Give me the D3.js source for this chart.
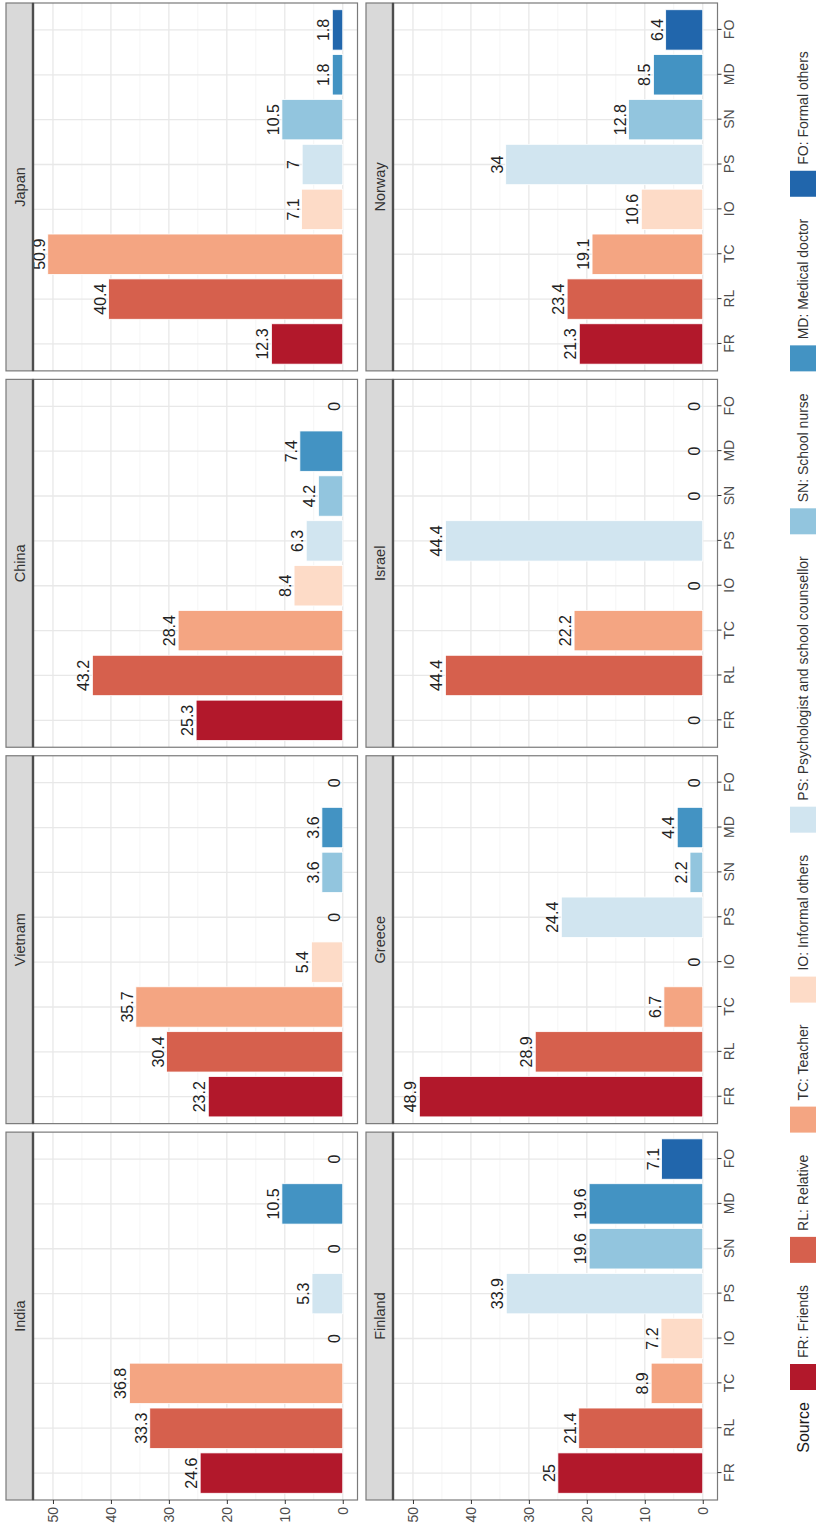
<!DOCTYPE html>
<html>
<head>
<meta charset="utf-8">
<script src="https://cdn.jsdelivr.net/npm/d3@7/dist/d3.min.js"></script>
<style>
  body { margin: 0; background: #fff; }
  svg { display: block; }
  text { font-family: "Liberation Sans", Arial, Helvetica, sans-serif; }
</style>
</head>
<body>
<script>
// Help-seeking sources, percentage of respondents per country
const sources = ["FR", "RL", "TC", "IO", "PS", "SN", "MD", "FO"];
const sourceNames = [
  "FR: Friends", "RL: Relative", "TC: Teacher", "IO: Informal others",
  "PS: Psychologist and school counsellor", "SN: School nurse",
  "MD: Medical doctor", "FO: Formal others"
];
const sourceColors = ["#b2182b", "#d6604d", "#f4a582", "#fddbc7",
                      "#d1e5f0", "#92c5de", "#4393c3", "#2166ac"];

const countries = ["India", "Vietnam", "China", "Japan",
                   "Finland", "Greece", "Israel", "Norway"];

const india   = [24.6, 33.3, 36.8, 0, 5.3, 0, 10.5, 0];
const vietnam = [23.2, 30.4, 35.7, 5.4, 0, 3.6, 3.6, 0];
const china   = [25.3, 43.2, 28.4, 8.4, 6.3, 4.2, 7.4, 0];
const japan   = [12.3, 40.4, 50.9, 7.1, 7, 10.5, 1.8, 1.8];
const finland = [25, 21.4, 8.9, 7.2, 33.9, 19.6, 19.6, 7.1];
const greece  = [48.9, 28.9, 6.7, 0, 24.4, 2.2, 4.4, 0];
const israel  = [0, 44.4, 22.2, 0, 44.4, 0, 0, 0];
const norway  = [21.3, 23.4, 19.1, 10.6, 34, 12.8, 8.5, 6.4];

const countryValues = [india, vietnam, china, japan, finland, greece, israel, norway];

const valueTicks = [0, 10, 20, 30, 40, 50];
const valueMinorTicks = [5, 15, 25, 35, 45];
const legendTitle = "Source";

// ---- page frame: the figure is laid out landscape and turned a quarter turn
const pageW = 816, pageH = 1528;

const svg = d3.select("body").append("svg")
  .attr("width", pageW).attr("height", pageH);
svg.append("rect").attr("width", pageW).attr("height", pageH).attr("fill", "#fff");

const root = svg.append("g")
  .attr("transform", `translate(0,${pageH}) rotate(-90)`);

// ---- facet grid geometry
const nCols = 4;
const panelLeft = 28, panelRight = 1525, panelGap = 8.5;
const panelW = (panelRight - panelLeft - panelGap * (nCols - 1)) / nCols;
const stripH = 27;
const rowTops = [6, 366];
const plotH = 324.5;

// value scale with ggplot-style 5% expansion
const vMax = d3.max(countryValues.flat());
const vPad = vMax * 0.05;
const valueDomain = [-vPad, vMax + vPad];

const catScale = d3.scalePoint().domain(sources).range([0, panelW]).padding(0.6);
const barW = catScale.step() * 0.9;

const colorOf = d3.scaleOrdinal().domain(sources).range(sourceColors);

countries.forEach((country, i) => {
  const col = i % nCols, row = Math.floor(i / nCols);
  const x0 = panelLeft + col * (panelW + panelGap);
  const top = rowTops[row];
  const plotTop = top + stripH;
  const plotBottom = plotTop + plotH;

  const yScale = d3.scaleLinear().domain(valueDomain).range([plotBottom, plotTop]);
  const vals = countryValues[i];

  const g = root.append("g").attr("transform", `translate(${x0},0)`);

  // panel background
  g.append("rect")
    .attr("x", 0).attr("y", plotTop).attr("width", panelW).attr("height", plotH)
    .attr("fill", "#fff");

  // minor grid
  g.selectAll(".gmin").data(valueMinorTicks).join("line")
    .attr("x1", 0).attr("x2", panelW)
    .attr("y1", d => yScale(d)).attr("y2", d => yScale(d))
    .attr("stroke", "#f2f2f2").attr("stroke-width", 0.8);

  // major grid
  g.selectAll(".gmaj").data(valueTicks).join("line")
    .attr("x1", 0).attr("x2", panelW)
    .attr("y1", d => yScale(d)).attr("y2", d => yScale(d))
    .attr("stroke", "#e8e8e8").attr("stroke-width", 1.3);
  g.selectAll(".gcat").data(sources).join("line")
    .attr("x1", d => catScale(d)).attr("x2", d => catScale(d))
    .attr("y1", plotTop).attr("y2", plotBottom)
    .attr("stroke", "#e8e8e8").attr("stroke-width", 1.3);

  // bars
  g.selectAll(".bar").data(sources).join("rect")
    .attr("x", d => catScale(d) - barW / 2)
    .attr("width", barW)
    .attr("y", (d, j) => yScale(vals[j]))
    .attr("height", (d, j) => yScale(0) - yScale(vals[j]))
    .attr("fill", d => colorOf(d))
    .attr("stroke", "#fff").attr("stroke-width", 0.8);

  // value labels
  g.selectAll(".lab").data(sources).join("text")
    .attr("x", d => catScale(d))
    .attr("y", (d, j) => yScale(vals[j]) - 3)
    .attr("text-anchor", "middle")
    .attr("font-size", 16)
    .attr("fill", "#222")
    .text((d, j) => vals[j]);

  // panel border
  g.append("rect")
    .attr("x", 0).attr("y", plotTop).attr("width", panelW).attr("height", plotH)
    .attr("fill", "none").attr("stroke", "#7a7a7a").attr("stroke-width", 1.2);

  // strip
  g.append("rect")
    .attr("x", 0).attr("y", top).attr("width", panelW).attr("height", stripH)
    .attr("fill", "#d9d9d9").attr("stroke", "#7a7a7a").attr("stroke-width", 1.2);
  g.append("line")
    .attr("x1", 0).attr("x2", panelW).attr("y1", plotTop).attr("y2", plotTop)
    .attr("stroke", "#4d4d4d").attr("stroke-width", 2.4);
  g.append("text")
    .attr("x", panelW / 2).attr("y", top + stripH / 2)
    .attr("dy", "0.35em")
    .attr("text-anchor", "middle")
    .attr("font-size", 14.5)
    .attr("fill", "#333")
    .text(country);

  // value axis on the first column
  if (col === 0) {
    const ax = g.append("g")
      .call(d3.axisLeft(yScale).tickValues(valueTicks).tickSize(4).tickPadding(3));
    ax.select(".domain").remove();
    ax.selectAll(".tick line").attr("stroke", "#333");
    ax.selectAll(".tick text").attr("font-size", 14).attr("fill", "#4d4d4d")
      .style("font-family", '"Liberation Sans", Arial, sans-serif');
  }
  // source axis on the bottom row
  if (row === 1) {
    const ax = g.append("g").attr("transform", `translate(0,${plotBottom})`)
      .call(d3.axisBottom(catScale).tickSize(4).tickPadding(3));
    ax.select(".domain").remove();
    ax.selectAll(".tick line").attr("stroke", "#333");
    ax.selectAll(".tick text").attr("font-size", 14).attr("fill", "#4d4d4d")
      .style("font-family", '"Liberation Sans", Arial, sans-serif');
  }
});

// ---- legend along the bottom edge
const legendY = 803;   // centre line of the legend row
const keySize = 26;
const keyGap = 6, itemGap = 22, titleGap = 12;
const firstKeyX = 138;
const legend = root.append("g");
const title = legend.append("text")
  .attr("y", legendY).attr("dy", "0.35em")
  .attr("font-size", 16).attr("fill", "#1a1a1a")
  .text(legendTitle);

const items = legend.selectAll(".item").data(sources).join("g");
items.append("rect")
  .attr("width", keySize).attr("height", keySize)
  .attr("y", legendY - keySize / 2)
  .attr("fill", d => colorOf(d));
const itemText = items.append("text")
  .attr("x", keySize + keyGap)
  .attr("y", legendY).attr("dy", "0.35em")
  .attr("font-size", 14).attr("fill", "#333")
  .text((d, j) => sourceNames[j]);

// lay the items out left to right after the title
const titleW = title.node().getComputedTextLength();
title.attr("x", firstKeyX - titleGap - titleW);
let cursor = firstKeyX;
const offsets = [];
itemText.each(function () {
  offsets.push(cursor);
  cursor += keySize + keyGap + this.getComputedTextLength() + itemGap;
});
items.attr("transform", (d, j) => `translate(${offsets[j]},0)`);
</script>
</body>
</html>
